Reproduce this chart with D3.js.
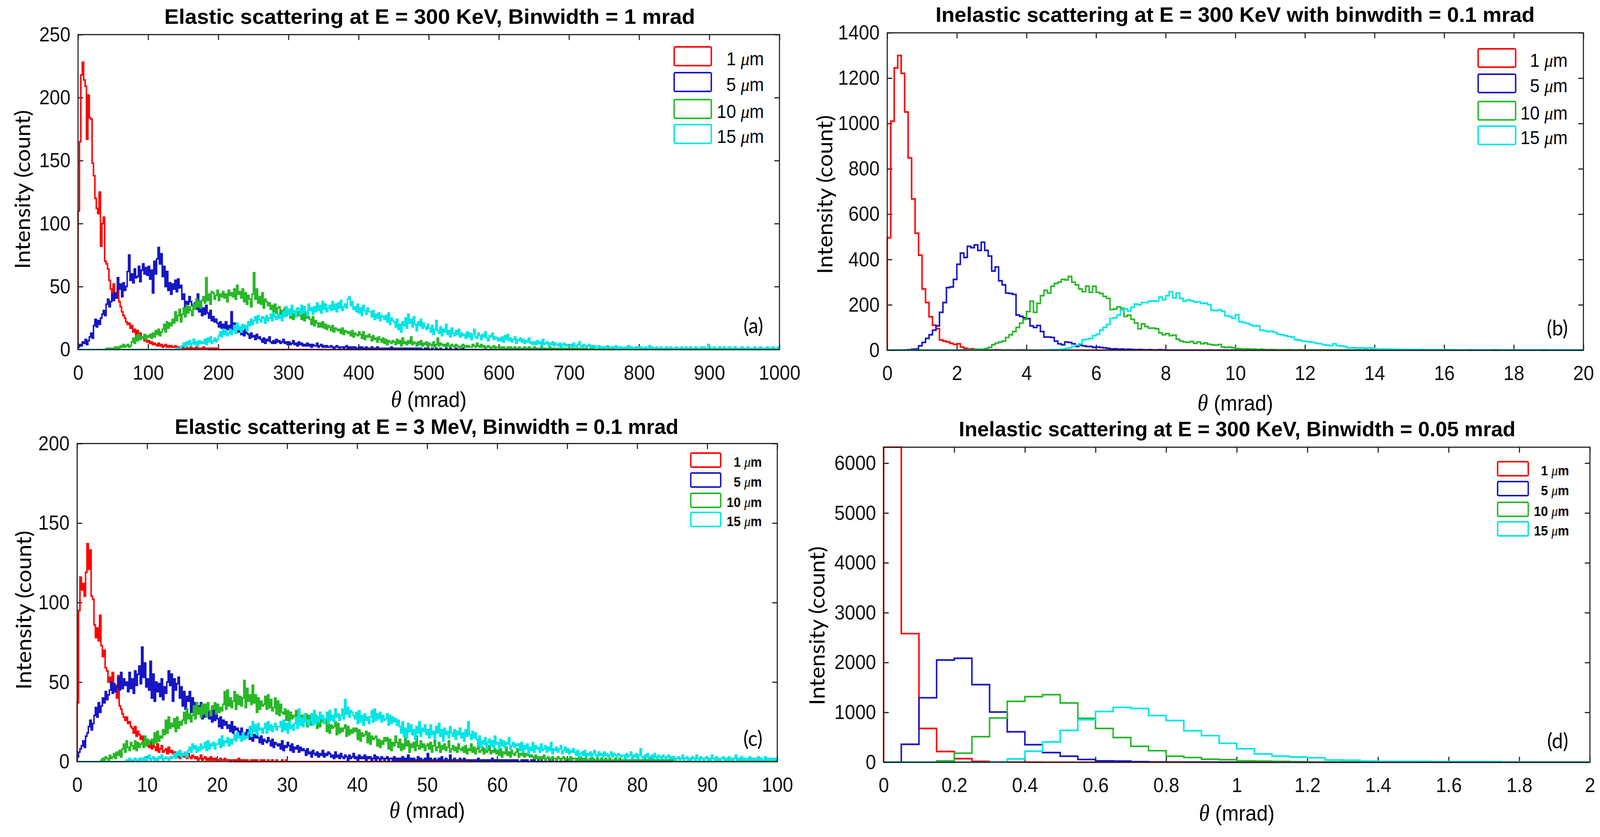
<!DOCTYPE html>
<html>
<head>
<meta charset="utf-8">
<script src="https://cdn.jsdelivr.net/npm/d3@7"></script>
<style>
  html, body { margin: 0; padding: 0; overflow: hidden; background: #fff; }
  svg { display: block; width: 100vw; height: 100vh; }
</style>
</head>
<body>
<div id="chart"></div>
<script>
'use strict';

// legend entries and line colours (same order in every panel)
var seriesLabels = ['1', '5', '10', '15'];
var seriesColors = ['#ff0000', '#1616c4', '#28b828', '#00e6e6'];

// ---- panel (a): elastic, 300 keV, 0..1000 mrad ----
// counts, one value per 2 mrad, each series starts at aStart
var aStart = [0, 0, 40, 140];
var aStep = 2;
var aXTicks = [0, 100, 200, 300, 400, 500, 600, 700, 800, 900, 1000];
var aYTicks = [0, 50, 100, 150, 200, 250];
var aRed = [
  110,165,218,228,214,209,167,202,184,183,
  148,138,120,112,108,125,82,100,105,70,
  68,64,55,48,40,52,44,41,50,38,
  34,30,27,25,22,20,21,17,19,14,
  16,12,15,11,13,9,10,7,8,6,
  7,5,6,4,5,
  4,3,5,3,4,2,3,4,2,3,2,3,2,2,3,
  2,1,2,1,2,1,1,2,1,1,2,1,1,1,2,1,1,1,1,2,1,1,1,0,1,1,0,1,0,1
];
var aBlue = [
  2,4,3,6,5,8,4,7, 10,13,9, 19,24,18,23,20,25, 28,31,27, 36,40,34,38,
  44,39,45,41, 57,48,52, 42,53,47,50, 62,75,55, 60,53,64,57, 58,66,54,63,
  68,60,65, 59,66,56,63, 45,70,60, 72,81,68,76, 58,66,50,62, 47,53,44,
  52,48,55,46, 56,49,51, 40,44,34,38, 36,42,38,35, 33,37,32, 44,30,38,27,
  33,28,35, 29,25,31,23, 26,22,24,21, 18,22,17, 20,17,22,16,
  19,14,30,16,21,13,15, 14,17,12,15,11,16,13,
  12,9,13,10,11,8,12,9,10, 8,6,9,5,8,7,10,6,5,
  7,5,8,6,7,5,6,8,5,6,4, 6,4,5,7,4,5,3,6,4,5,3,
  4,3,5,3,4,2,4,3,3,5,2,3,4,2,3,2,3,2,
  2,3,2,1,2,3,2,1,2,2,1,2,3,1,2,1,2,1,2,1,1,2,1,2,1,1,2,1,1,1,2,1,1,1,2,1,
  1,1,0,1,1,1,0,1,2,1,0,1,1,0,1,1,0,1,1,0,1,0,1,1,0,1,0,1,0,1,
  0,0,1,0,1,0,0,1,0,0,1,0,0,1,0,0,0,1,0,0,1,0,0,0,1,0,0,0,0,1
];
var aGreen = [
  1,0,1,1,0,1,2,1, 2,1,3,2,4,2,3,4,2,3, 6,9,5,11,7,12,8,10,
  9,12,8,11,10,12,9, 13,10,15,12,16,11,14, 16,20,14,22,17,21,19,
  24,21,30,23,27,32,22, 28,33,26,35,29,34,31,27, 36,32,40,34,38,33,39,
  42,37,57,39,44,36,46, 45,40,43,47,39,44,42, 46,41,44,38,47,43,45,
  42,48,40,51,44,46,41,48, 38,45,36,43,40,34,44, 61,40,48,37,
  42,36,45,33,40,38,35, 37,32,35,30,36,29,33, 34,28,31,26,33,27,30,
  29,25,32,24,28,26,30, 27,30,24,28,23,29,25,26, 24,20,26,19,23,21,18,
  21,18,22,17,20,16,19, 18,15,19,14,17,16,15, 16,13,17,12,15,14,13,
  14,11,15,10,13,12,11,14, 12,9,14,8,11,10,12, 10,7,11,8,9,6,10,
  8,6,9,5,8,4,7,6,5,7, 6,4,8,5,7,3,9,5,6,4,7,5,10,4,6,
  5,3,6,4,7,3,5,4,6,2,5,4,3,6,2,4,9,3,5,4,
  3,4,2,5,3,2,4,3,2,4,3,2,1,3,4,2,3,2,3,2,
  2,4,3,2,5,3,2,4,2,3,1,2,3,2,1,2,3,1,2,2,
  1,2,1,2,1,1,2,1,2,1,1,2,1,1,2,1,1,1,2,1,1,2,1,1,1,2,1,1,1,1,
  2,1,1,1,1,1,2,1,1,0,1,1,1,0,1,1,0,1,1,0,
  1,0,1,1,0,1,0,1,0,1,1,0,1,0,0,1,0,1,0,0,1,0,1,0,0,1,0,0,1,0,
  0,1,0,0,1,0,0,0,1,0,0,1,0,0,0,1,0,0,0,1
];
var aCyan = [
  1,0,1,2, 3,5,2,6,4,7,3,5,8,4,6,3,7,5,6, 5,8,4,9,6,10,5,7,9,6,8,
  11,14,10,16,12,15,11,13,16,12, 15,19,13,21,16,18,14,20,17,19,15, 22,19,24,20,
  23,26,21,27,24,22,26,25,21,27,23, 25,28,23,29,26,24,28,25,27,23,
  30,26,34,28,32,27,35,29,31,26,33, 32,28,35,29,34,30,27,36,31,33,28,
  34,30,37,31,35,29,38,32,36,30,33, 35,31,38,32,36,30,37,33,39,31,34,
  36,33,40,42,35,38,32, 34,30,36,29,33,27,35,31,28,33,30,
  30,26,31,24,28,25,29,23,27,26,24, 27,22,29,20,25,23,
  22,18,24,16,20,14,22,19,25,17,28,21,24,18,26,20,15,22,19,24,17,21,18,16,20,
  17,14,19,12,16,23,15,13,18,11,16,14,20,12,15,10,17,13,11,15,12,16,10,13,11,
  12,9,14,10,13,8,12,16,10,9,13,11,8,12,10,14,9,7,11,10,13,8,10,9,7,
  9,7,10,6,11,8,12,7,9,6,8,10,5,8,7,9,6,8,5,7,6,9,5,6,4,
  6,4,7,5,6,3,8,4,5,6,3,5,4,6,3,5,4,3,5,2,4,5,3,4,3,
  3,4,2,5,3,2,4,6,3,2,4,3,2,3,4,2,3,2,3,2,1,3,2,1,2,
  2,1,3,2,1,2,2,1,3,1,2,1,2,1,1,2,1,3,1,2,1,1,2,1,2,
  1,2,1,1,2,1,1,3,1,2,1,1,2,1,1,2,1,1,1,2,1,1,2,1,1,1,2,1,1,1,
  2,1,1,2,1,1,2,1,1,1,2,1,1,1,2,1,2,1,1,4,
  2,1,1,2,1,1,1,2,1,1,2,1,1,1,2,1,1,1,2,1,1,1,1,2,1,1,1,2,1,1,
  1,1,2,1,1,1,2,1,1,1,1,2,1,1,1,2,1,1,1,2
];

// ---- panel (b): inelastic, 300 keV, 0.1 mrad bins ----
var bStart = [0, 0, 2.0, 4.5];
var bStep = 0.1;
var bXTicks = [0, 2, 4, 6, 8, 10, 12, 14, 16, 18, 20];
var bYTicks = [0, 200, 400, 600, 800, 1000, 1200, 1400];
var bRed = [
  496,1010,1245,1300,1221,1051,848,667,516,419,
  270,210,147,110,95,45,40,36,30,25,
  28,14,8,5,6,3,4,2,2,1,
  1,2,1,0,1,1,0,1,0,1
];
var bBlue = [
  0,0,0,0,0,1,2,4,5,19,
  34,52,68,88,107,167,210,276,279,312,
  379,428,409,458,452,464,440,476,440,415,
  349,367,306,288,252,250,246,155,149,143,
  139,107,100,109,82,58,58,56,40,28,
  24,36,34,28,16,22,19,16,16,12,
  14,12,10,8,5,6,4,5,3,4,
  3,2,3,2,1,2,1,1,2,1
];
var bGreen = [
  0,1,1,2,2,3,4,4,7,12,
  24,31,36,40,56,68,82,100,119,136,
  170,216,167,206,240,264,252,282,294,300,
  312,310,325,300,288,270,258,282,255,282,
  255,250,237,228,179,182,191,185,149,155,
  136,120,94,116,104,97,97,94,76,68,
  73,64,66,48,40,36,34,38,30,36,
  28,32,26,24,22,25,14,12,13,10,
  7,6,5,6,4,5,3,4,3,2,
  3,2,1,2,1,2,1,1,2,1,
  1,1,0,1,1,0,1,0,1,0
];
var bCyan = [
  1,1,2,2,3,4,7,10,16,22,
  28,46,48,52,64,70,88,100,113,140,
  143,155,177,182,173,189,203,200,210,210,
  216,218,216,234,222,240,258,230,252,228,
  216,222,218,212,214,206,208,200,176,174,
  178,172,152,148,140,156,126,122,118,112,
  106,108,88,86,82,84,78,70,68,64,
  60,58,46,44,40,38,36,34,30,28,
  24,22,20,28,20,18,16,10,11,10,
  9,10,8,10,9,5,4,5,4,4,
  3,4,3,3,2,3,2,2,3,2,
  2,1,2,2,1,2,1,2,1,1,
  0,1,2,1,0,1,1,0,1,2,
  1,0,1,1,0,1,0,1,1,0,
  1,0,1,2,1,0,1,0,1,1,
  0,1,0,1,1
];

// ---- panel (c): elastic, 3 MeV, 0..100 mrad ----
// one value per 0.2 mrad
var cStart = [0, 0, 3.4, 7];
var cStep = 0.2;
var cXTicks = [0, 10, 20, 30, 40, 50, 60, 70, 80, 90, 100];
var cYTicks = [0, 50, 100, 150, 200];
var cRed = [
  37,95,116,108,112,104,119,137,121,133,
  104,102,86,78,84,76,92,73,66,70,
  59,57,50,53,47,56,44,48,40,54,
  35,33,30,28,26,28,24,25,22,21,
  18,22,16,19, 17,14,16,12,15,11, 13,9,12,8,10, 9,7,11,6,8,10,6,7,
  8,5,9,6,7,5,6, 5,3,6,2,4,5,3,4,2,5,3,2,4,3,2,
  3,1,2,4,1,2,3,1,2,1,3,1,2,1,2,1,1,2,1,1,2,1,1,
  1,0,1,1,0,1,0,2,0,1,0,1,0,1,0,0,1,0,1,0,1,0,0,1,0,1,0,0,1,0,
  0,1,0,0,1,0,0,0,1,0,0,1
];
var cBlue = [
  3,6,8, 10,13,9,16, 18,22,26,20,24, 29,34,28,37,31, 35,40,37,44,39,42,
  45,50,43,49,44, 47,53,45,56,46,52,48, 50,44,56,46,52,43,57,48,
  55,60,49,72,53,62,47, 52,45,63,40,55,38,50, 44,49,41,52,39,47,43,
  50,57,48,55,38,52,45,49, 53,40,47,35,44,33,41, 38,44,31,40,29,37,33,
  35,30,37,27,33,28,31, 32,27,30,25,33,26,29, 27,22,28,21,26,23,25,21,
  23,19,25,18,22,20,21, 19,15,21,14,18,16,20, 18,14,21,13,17,15,19,
  15,12,16,11,14,13,12,15, 13,10,14,9,12,11,10, 11,8,13,7,10,9,12,
  10,7,11,6,9,8,10,6,9,7,8, 7,4,8,5,6,3,7,5,4,6,3,5,4,7,3,5,4,6,
  5,3,4,2,6,3,4,2,5,3,2,4,3,1,4,2,3,5,2,3,1,4,2,3,2,
  4,1,3,2,3,1,2,4,1,3,2,1,3,2,1,2,3,1,2,2,1,3,1,2,1,
  2,1,3,1,2,1,4,1,2,1,2,1,1,3,1,2,1,1,2,1,5,1,2,1,1,
  2,1,1,2,1,3,1,1,2,1,1,4,1,1,2,1,1,1,2,1,1,2,1,1,1,
  1,0,1,1,0,1,2,0,1,0,1,1,0,1,0,1,2,0,1,0,1,0,1,1,0,1,0,1,0,1,
  0,1,1,0,1,0,0,1,0,1,0,1,0,0,1,0,1,0,0,1,
  0,1,0,0,1,0,0,1,0,1,0,0,1,0,0,1,0,0,1,0
];
var cGreen = [
  1,2,1,3,2,1,4,2, 3,5,2,6,4,7,3, 8,11,6,13,9,7,12, 10,8,13,7,12,9,11,
  12,9,16,10,14,11,13, 14,11,18,12,19,13,16,15, 20,17,26,18,28,21,24,
  22,27,19,28,21,25,23, 26,31,24,33,27,30,25, 29,35,27,37,30,34,28,36,
  30,36,28,37,32,29,35, 33,37,30,36,31,34,32, 36,44,33,45,35,40,34,
  38,44,33,42,36,41,35, 40,51,34,46,38,42,36,48, 37,42,31,40,33,38,35,
  36,41,33,42,34,39,32, 34,40,30,38,29,36,31, 30,33,26,32,25,31,27,29,
  28,32,24,31,23,29,26, 27,30,22,29,23,28,24, 26,29,21,28,22,27,25,
  24,26,19,25,18,23,21, 22,25,17,24,18,21,19, 21,23,16,22,17,20,18,21,
  19,21,14,20,13,18,16, 17,19,12,18,11,16,14, 15,16,10,14,9,13,11,15,
  13,15,8,14,7,12,10,16,
  12,9,14,7,11,8,15,10,13,6,11,9,12,7,16,10,8,13,9,11,7,10,
  11,8,12,6,10,14,7,9,12,6,10,8,11,7,9,13,6,8,10,7,9,6,11,8,7,
  9,6,10,5,8,7,11,6,9,5,8,12,6,7,9,5,8,6,7,10,5,7,6,8,5,
  7,4,8,3,6,5,9,4,6,3,7,5,4,6,8,3,5,4,6,3,5,4,7,3,4,
  3,2,4,2,3,1,3,2,4,1,2,3,2,1,3,2,2,1,3,2,1,2,3,1,2,
  2,1,3,1,2,2,1,2,1,3,1,2,1,2,1,1,2,1,2,1,1,2,1,1,2,
  1,1,2,1,1,2,1,1,1,2,1,1,2,1,1,1,2,1,1,1,1,2,1,1,1,
  2,1,1,1,1,2,1,1,1,1,2,1,1,1,1,1,1,2,1,1,1,1,1,2,1,1
];
var cCyan = [
  1,0,2,1,0,1,2,1,0,2,1,
  2,1,3,1,2,4,1,2,3,1,2,1,3,2,4,1,2,3,2,1,3,2,
  3,5,2,6,4,7,3,5,4,6,3, 7,9,6,11,8,10,6,9,7,11,8, 9,12,7,13,8,11,10,12,8,11,
  11,14,9,16,10,13,12,15,10,14,11, 14,17,13,18,15,16,13,18,14,16,15,
  18,22,16,25,19,23,17,24,20,21,18, 21,24,18,25,20,23,19,22,24,20,22,
  22,25,19,26,20,24,18,25,21,23,20, 24,28,21,33,23,27,22,30,25,26,23,
  26,30,23,32,24,28,25,31,27,29,24, 27,31,24,32,26,29,25,33,28,30,26,
  29,33,27,39,30,34,28,32,31,29, 27,31,24,32,25,29,23,30,26,28,24,
  28,32,25,33,26,30,27,31,25,29,26, 27,30,23,29,24,28,25,27,23,26,
  22,18,25,16,21,15,24,19,23,17,20,14,22,18,25,16,21,19,23,17,
  20,15,23,17,19,14,22,18,24,16,20,13,21,17,19,15,22,18,16,20,14,19,17,21,15,18,13,20,16,25,17,14,19,15,18,
  14,10,16,9,13,11,15,8,12,14,10,13,9,16,11,12,8,14,10,13,9,12,11,15,8,10,12,9,11,10,
  11,7,12,6,10,8,11,5,9,7,12,6,10,8,9,6,11,7,8,10,6,9,7,12,5,8,7,9,6,8,10,5,7,9,6,8,5,7,6,8,
  6,4,7,3,5,6,4,7,3,5,4,6,3,5,7,4,3,6,4,5,3,6,4,5,3,4,6,3,5,4,3,5,4,3,4,
  4,2,5,3,4,6,2,4,3,5,2,4,8,3,2,4,3,5,2,3,4,2,5,3,2,4,3,2,4,3,2,3,4,2,3,
  2,3,1,2,3,1,2,4,1,2,3,1,2,1,3,2,1,4,2,1,3,2,1,2,3,1,2,1,4,2,
  1,3,1,2,1,2,3,1,2,1,3,1,2,1,2,4,1,2,1,3,1,2,1,2,1,3,1,2,1,2,
  1,3,1,2,1,1,3,1,2,1,2,1,2,1,2
];

// ---- panel (d): inelastic, 300 keV, 0.05 mrad bins ----
var dStart = [0, 0, 0, 0];
var dStep = 0.05;
var dXTicks = [0, 0.2, 0.4, 0.6, 0.8, 1, 1.2, 1.4, 1.6, 1.8, 2];
var dYTicks = [0, 1000, 2000, 3000, 4000, 5000, 6000];
var dRed = [6320,2580,677,215,72,16,5,2,1];
var dBlue = [0,360,1293,2050,2085,1556,1007,610,352,193,121,55,27,22,11,6,4,3,2,1,1];
var dGreen = [0,0,0,27,182,512,886,1221,1315,1354,1188,880,677,495,319,231,121,94,60,50,27,22,16,11,6,5,4,3,2,2,1];
var dCyan = [0,0,0,0,0,0,5,66,220,407,638,853,1018,1100,1078,935,836,632,533,380,270,165,121,105,88,44,38,22,16,16,16,11,11,11,11,5,5,5,5,5];

var titles = [
  'Elastic scattering at E = 300 KeV, Binwidth = 1 mrad',
  'Inelastic scattering at E = 300 KeV with binwdith = 0.1 mrad',
  'Elastic scattering at E = 3 MeV, Binwidth = 0.1 mrad',
  'Inelastic scattering at E = 300 KeV, Binwidth = 0.05 mrad'
];

var panels = [
  { letter: '(a)', title: titles[0], xDomain: [0, 1000], yDomain: [0, 250],
    xTicks: aXTicks, yTicks: aYTicks, step: aStep, starts: aStart,
    series: [aRed, aBlue, aGreen, aCyan],
    box: { left: 216.5, right: 2162, top: 88.6, bottom: 895 },
    titleX: 1192, titleY: 61, titleW: 1472,
    xLabelY: 1042, yLabelX: 83, yLabelY: 485,
    letterX: 2117, letterY: 853,
    legend: { x: 1870, w: 103, h: 48, tops: [120, 186, 255, 319], textX: 2119, size: 48, bold: false } },
  { letter: '(b)', title: titles[1], xDomain: [0, 20], yDomain: [0, 1400],
    xTicks: bXTicks, yTicks: bYTicks, step: bStep, starts: bStart,
    series: [bRed, bBlue, bGreen, bCyan],
    box: { left: 2461, right: 4392, top: 84, bottom: 896.5 },
    titleX: 3426, titleY: 56, titleW: 1662,
    xLabelY: 1051, yLabelX: 2309, yLabelY: 498,
    letterX: 4349, letterY: 859,
    legend: { x: 4100, w: 104, h: 47, tops: [125, 190, 260, 323], textX: 4348, size: 48, bold: false } },
  { letter: '(c)', title: titles[2], xDomain: [0, 100], yDomain: [0, 200],
    xTicks: cXTicks, yTicks: cYTicks, step: cStep, starts: cStart,
    series: [cRed, cBlue, cGreen, cCyan],
    box: { left: 214, right: 2156, top: 1135.6, bottom: 1950 },
    titleX: 1183.5, titleY: 1111, titleW: 1397,
    xLabelY: 2094, yLabelX: 87, yLabelY: 1562,
    letterX: 2115, letterY: 1910,
    legend: { x: 1916, w: 83, h: 36, tops: [1160, 1211, 1263, 1312], textX: 2113, size: 35, bold: true } },
  { letter: '(d)', title: titles[3], xDomain: [0, 2], yDomain: [0, 6320],
    xTicks: dXTicks, yTicks: dYTicks, step: dStep, starts: dStart,
    series: [dRed, dBlue, dGreen, dCyan],
    box: { left: 2451, right: 4410, top: 1145, bottom: 1951.5 },
    titleX: 3431.5, titleY: 1117, titleW: 1544,
    xLabelY: 2101, yLabelX: 2287, yLabelY: 1602,
    letterX: 4350, letterY: 1916,
    legend: { x: 4154, w: 85, h: 36, tops: [1182, 1233, 1286, 1336], textX: 4352, size: 35, bold: true } }
];

var width = 4438, height = 2143;
var sans = '"Liberation Sans", Arial, Helvetica, sans-serif';
var serif = '"Liberation Serif", "DejaVu Serif", serif';
var labelFont = 'Lato, "Open Sans", sans-serif';
var axisColor = '#222';

// the drawing is laid out in 4438 x 2143 units and stretched to the window
var svg = d3.select('#chart').append('svg')
  .attr('viewBox', '0 0 ' + width + ' ' + height)
  .attr('preserveAspectRatio', 'none');

svg.append('rect')
  .attr('width', width)
  .attr('height', height)
  .attr('fill', '#fff');

// outline of a histogram: one flat step per bin, zero outside the stored range
function histPoints(vals, start, step, dom) {
  var pts = [[dom[0], 0], [start, 0]];
  vals.forEach(function(v, i) {
    pts.push([start + i * step, v]);
  });
  var end = start + vals.length * step;
  pts.push([end, vals[vals.length - 1]]);
  pts.push([end, 0]);
  if (end < dom[1]) pts.push([dom[1], 0]);
  return pts;
}

function styleAxis(sel) {
  sel.select('.domain').remove();
  sel.attr('font-size', 52)
    .attr('font-family', sans);
  sel.selectAll('.tick line')
    .attr('stroke', axisColor)
    .attr('stroke-width', 3);
  sel.selectAll('.tick text')
    .attr('fill', '#111');
}

function drawPanel(p) {
  var x = d3.scaleLinear().domain(p.xDomain).range([p.box.left, p.box.right]);
  var y = d3.scaleLinear().domain(p.yDomain).range([p.box.bottom, p.box.top]);
  var g = svg.append('g');
  var fmt = d3.format('~g');

  // ticks point inwards on all four sides
  g.append('g')
    .attr('transform', 'translate(0,' + p.box.bottom + ')')
    .call(d3.axisBottom(x).tickValues(p.xTicks).tickSizeInner(-14).tickSizeOuter(0).tickPadding(40).tickFormat(fmt))
    .call(styleAxis);
  g.append('g')
    .attr('transform', 'translate(0,' + p.box.top + ')')
    .call(d3.axisTop(x).tickValues(p.xTicks).tickSizeInner(-14).tickSizeOuter(0).tickFormat(''))
    .call(styleAxis);
  g.append('g')
    .attr('transform', 'translate(' + p.box.left + ',0)')
    .call(d3.axisLeft(y).tickValues(p.yTicks).tickSizeInner(-14).tickSizeOuter(0).tickPadding(21).tickFormat(fmt))
    .call(styleAxis);
  g.append('g')
    .attr('transform', 'translate(' + p.box.right + ',0)')
    .call(d3.axisRight(y).tickValues(p.yTicks).tickSizeInner(-14).tickSizeOuter(0).tickFormat(''))
    .call(styleAxis);

  // the four histograms
  var line = d3.line()
    .x(function(d) { return x(d[0]); })
    .y(function(d) { return y(d[1]); })
    .curve(d3.curveStepAfter);

  p.series.forEach(function(vals, i) {
    g.append('path')
      .attr('d', line(histPoints(vals, p.starts[i], p.step, p.xDomain)))
      .attr('fill', 'none')
      .attr('stroke', seriesColors[i])
      .attr('stroke-width', 4.2)
      .attr('stroke-linejoin', 'miter');
  });

  // axes box on top
  g.append('rect')
    .attr('x', p.box.left)
    .attr('y', p.box.top)
    .attr('width', p.box.right - p.box.left)
    .attr('height', p.box.bottom - p.box.top)
    .attr('fill', 'none')
    .attr('stroke', axisColor)
    .attr('stroke-width', 3);

  // title
  g.append('text')
    .attr('x', p.titleX)
    .attr('y', p.titleY)
    .attr('text-anchor', 'middle')
    .attr('font-family', sans)
    .attr('font-weight', 'bold')
    .attr('font-size', 53)
    .attr('textLength', p.titleW)
    .attr('lengthAdjust', 'spacingAndGlyphs')
    .attr('fill', '#000')
    .text(p.title);

  // x label: italic theta + (mrad)
  var xl = g.append('text')
    .attr('x', (p.box.left + p.box.right) / 2)
    .attr('y', p.xLabelY)
    .attr('text-anchor', 'middle')
    .attr('font-family', sans)
    .attr('font-size', 56)
    .attr('fill', '#000');
  xl.append('tspan')
    .attr('font-family', serif)
    .attr('font-style', 'italic')
    .attr('font-size', 60)
    .text('\u03b8');
  xl.append('tspan').text(' (mrad)');

  // y label
  g.append('text')
    .attr('transform', 'translate(' + p.yLabelX + ',' + p.yLabelY + ') rotate(-90)')
    .attr('text-anchor', 'middle')
    .attr('font-family', labelFont)
    .attr('font-size', 58)
    .attr('textLength', 407)
    .attr('lengthAdjust', 'spacingAndGlyphs')
    .attr('fill', '#000')
    .text('Intensity (count)');

  // panel letter
  g.append('text')
    .attr('x', p.letterX)
    .attr('y', p.letterY)
    .attr('text-anchor', 'end')
    .attr('font-family', labelFont)
    .attr('font-size', 55)
    .attr('fill', '#000')
    .text(p.letter);

  // legend: outlined boxes and right-aligned labels
  var lg = p.legend;
  seriesLabels.forEach(function(lab, i) {
    g.append('rect')
      .attr('x', lg.x)
      .attr('y', lg.tops[i])
      .attr('width', lg.w)
      .attr('height', lg.h)
      .attr('rx', 3)
      .attr('fill', 'none')
      .attr('stroke', seriesColors[i])
      .attr('stroke-width', 4);
    var t = g.append('text')
      .attr('x', lg.textX)
      .attr('y', lg.tops[i] + lg.h - 1)
      .attr('text-anchor', 'end')
      .attr('font-family', sans)
      .attr('font-size', lg.size)
      .attr('font-weight', lg.bold ? 'bold' : 'normal')
      .attr('fill', '#000');
    t.append('tspan').text(lab + ' ');
    t.append('tspan')
      .attr('font-family', serif)
      .attr('font-style', 'italic')
      .attr('font-weight', 'normal')
      .text('\u03bc');
    t.append('tspan').text('m');
  });
}

panels.forEach(drawPanel);
</script>
</body>
</html>
